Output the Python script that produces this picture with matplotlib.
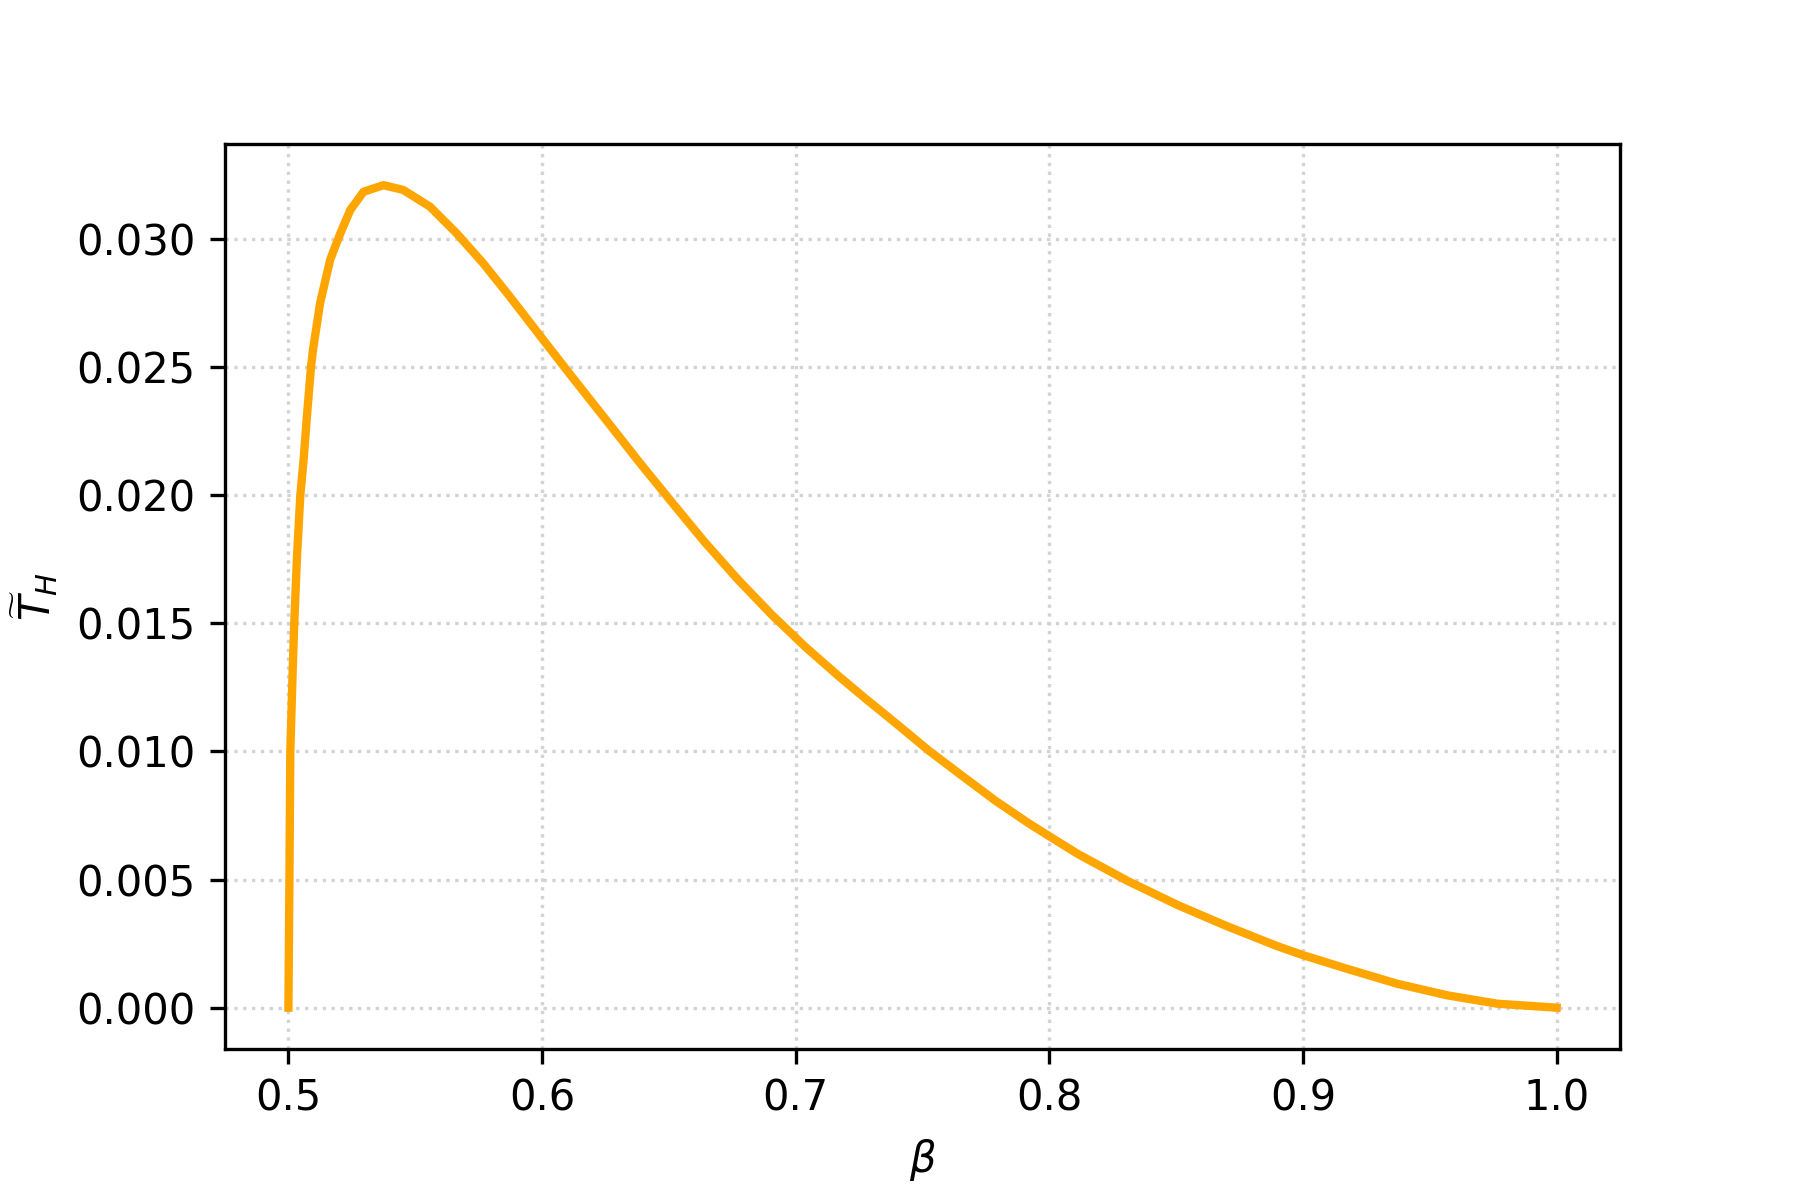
import numpy as np
import matplotlib.pyplot as plt

# values
beta = [0.5, 0.5004, 0.50075, 0.5017, 0.5023, 0.5034, 0.5047, 0.5060, 0.5073,
        0.5089, 0.5097, 0.5125, 0.5165, 0.5204, 0.5244, 0.5296, 0.5375, 0.5453,
        0.5558, 0.5663, 0.5768, 0.5873, 0.6004, 0.6118, 0.6249, 0.638, 0.6512,
        0.6643, 0.6774, 0.6906, 0.7037, 0.7168, 0.7273, 0.7402, 0.7525, 0.7656,
        0.7787, 0.7918, 0.8, 0.8114, 0.831, 0.8507, 0.8703, 0.8899, 0.9,
        0.9176, 0.9373, 0.957, 0.9766, 1.0]
T_H = [0.0, 0.005, 0.010, 0.01322, 0.015, 0.01763, 0.020, 0.0214, 0.02308,
       0.025, 0.02568, 0.0275, 0.0292, 0.0302, 0.03113, 0.03184, 0.0321, 0.03191,
       0.03126, 0.03022, 0.02905, 0.02775, 0.02607, 0.02462, 0.02298, 0.02133, 0.01972,
       0.01815, 0.01669, 0.01533, 0.01409, 0.01295, 0.01208, 0.01104, 0.01003, 0.00905,
       0.00808, 0.0072, 0.00669, 0.00599, 0.00494, 0.004, 0.00317, 0.0024, 0.00205,
       0.00151, 0.00093, 0.00048, 0.000155, 0.0]

fig, ax = plt.subplots(figsize=(6, 4), dpi=300)
fig.subplots_adjust(bottom=0.126)
ax.plot(beta, T_H, color='orange', linewidth=2)
ax.grid(True, linestyle=':', color='lightgray')
ax.set_xlabel(r'$\beta$')
ax.set_ylabel(r'$\widetilde{T}_H$')
fig.savefig('out.png', dpi=300)
